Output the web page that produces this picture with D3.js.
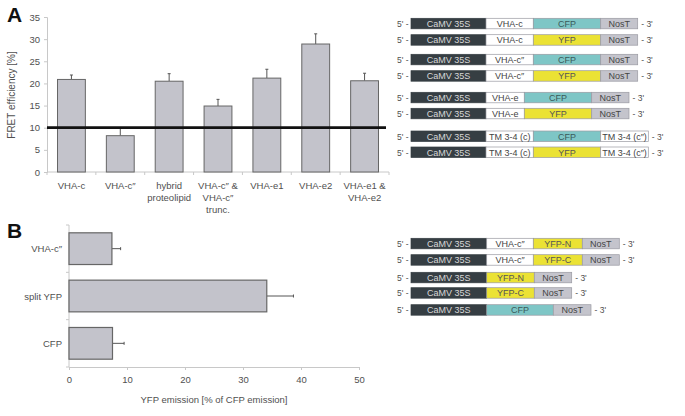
<!DOCTYPE html>
<html><head><meta charset="utf-8">
<script src="https://cdn.jsdelivr.net/npm/d3@7"></script>
<style>body{margin:0;background:#fff}svg{display:block;font-family:"Liberation Sans",Arial,sans-serif}</style>
</head><body><svg id="c" width="685" height="416"></svg>
<script>
// Panel A data
const fretCategories = [["VHA-c"],["VHA-c\u2033"],["hybrid","proteolipid"],["VHA-c\u2033 &","VHA-c\u2033","trunc."],["VHA-e1"],["VHA-e2"],["VHA-e1 &","VHA-e2"]];
const fretValues = [20.9, 8.2, 20.5, 14.9, 21.2, 28.9, 20.6];
const fretErrors = [1.0, 1.7, 1.7, 1.5, 2.0, 2.3, 1.7];
const fretTicks = [0,5,10,15,20,25,30,35];
const fretThreshold = 10;
// Panel B data
const yfpCategories = ["VHA-c\u2033","split YFP","CFP"];
const yfpValues = [7.4, 34.1, 7.5];
const yfpErrors = [1.5, 4.6, 2.0];
const yfpTicks = [0,10,20,30,40,50];
// Constructs: [label, type, length]
const constructsA = [
 [["CaMV 35S","p",75],["VHA-c","w",47.3],["CFP","c",67.4],["NosT","n",37]],
 [["CaMV 35S","p",75],["VHA-c","w",47.3],["YFP","y",67.4],["NosT","n",37]],
 [["CaMV 35S","p",75],["VHA-c\u2033","w",47.3],["CFP","c",67.4],["NosT","n",37]],
 [["CaMV 35S","p",75],["VHA-c\u2033","w",47.3],["YFP","y",67.4],["NosT","n",37]],
 [["CaMV 35S","p",75],["VHA-e","w",38.3],["CFP","c",67.4],["NosT","n",37.3]],
 [["CaMV 35S","p",75],["VHA-e","w",38.3],["YFP","y",67.4],["NosT","n",37.3]],
 [["CaMV 35S","p",75],["TM 3-4 (c)","w",47.3],["CFP","c",67.4],["TM 3-4 (c\u2033)","w",47.6]],
 [["CaMV 35S","p",75],["TM 3-4 (c)","w",47.3],["YFP","y",67.4],["TM 3-4 (c\u2033)","w",47.6]]
];
const constructsB = [
 [["CaMV 35S","p",75.7],["VHA-c\u2033","w",46.6],["YFP-N","y",49],["NosT","n",37]],
 [["CaMV 35S","p",75.7],["VHA-c\u2033","w",46.6],["YFP-C","y",49],["NosT","n",37]],
 [["CaMV 35S","p",75.7],["YFP-N","y",47.6],["NosT","n",37.4]],
 [["CaMV 35S","p",75.7],["YFP-C","y",47.6],["NosT","n",37.4]],
 [["CaMV 35S","p",75.7],["CFP","c",66.6],["NosT","n",37.7]]
];

const svg = d3.select("#c");
const textCol = "#505050", axisCol = "#c8c8c8", barFill = "#c3c3cb", barStroke = "#666";

// ---------- Panel A ----------
const yA = d3.scaleLinear().domain([0,35]).range([172,17]);
const xA = d3.scaleBand().domain(d3.range(fretValues.length)).range([47,389]).paddingInner(0.43).paddingOuter(0.215);
const gA = svg.append("g");
gA.append("text").attr("x",7).attr("y",22).attr("font-size",21).attr("font-weight","bold").attr("fill","#111").text("A");
const yAxA = gA.append("g").attr("transform","translate(47,0)").call(d3.axisLeft(yA).tickValues(fretTicks).tickSize(3).tickPadding(4));
yAxA.selectAll("path,line").attr("stroke",axisCol);
yAxA.selectAll("text").attr("font-size",9.5).attr("fill",textCol).attr("font-family","Liberation Sans, Arial, sans-serif");
gA.append("line").attr("x1",47).attr("x2",389).attr("y1",yA(0)).attr("y2",yA(0)).attr("stroke",axisCol);
// category boundary ticks
d3.range(fretValues.length+1).forEach(i=>{
  const bx = 47 + i*xA.step();
  gA.append("line").attr("x1",bx).attr("x2",bx).attr("y1",yA(0)).attr("y2",yA(0)+3).attr("stroke",axisCol);
});
gA.append("text").attr("transform","translate(15,95) rotate(-90)").attr("text-anchor","middle")
  .attr("font-size",10).attr("fill",textCol).text("FRET efficiency [%]");
// error bars
fretValues.forEach((v,i)=>{
  const cx = xA(i)+xA.bandwidth()/2;
  gA.append("line").attr("x1",cx).attr("x2",cx).attr("y1",yA(v)).attr("y2",yA(v+fretErrors[i])).attr("stroke","#555").attr("stroke-width",1);
  gA.append("line").attr("x1",cx-1.5).attr("x2",cx+1.5).attr("y1",yA(v+fretErrors[i])).attr("y2",yA(v+fretErrors[i])).attr("stroke","#555");
});
gA.selectAll("rect.b").data(fretValues).join("rect")
  .attr("x",(d,i)=>xA(i)).attr("width",xA.bandwidth())
  .attr("y",d=>yA(d)).attr("height",d=>yA(0)-yA(d))
  .attr("fill",barFill).attr("stroke",barStroke).attr("stroke-width",1);
gA.append("line").attr("x1",47).attr("x2",386).attr("y1",yA(fretThreshold)).attr("y2",yA(fretThreshold)).attr("stroke","#111").attr("stroke-width",2.8);
fretCategories.forEach((lines,i)=>{
  const cx = xA(i)+xA.bandwidth()/2;
  lines.forEach((t,j)=>{
    gA.append("text").attr("x",cx).attr("y",189+j*12).attr("text-anchor","middle").attr("font-size",9.5).attr("fill",textCol).text(t);
  });
});

// ---------- Panel B ----------
const xB = d3.scaleLinear().domain([0,50]).range([69,359]);
const yB = d3.scaleBand().domain(d3.range(yfpValues.length)).range([225,367]).paddingInner(0.33).paddingOuter(0.165);
const gB = svg.append("g");
gB.append("text").attr("x",7).attr("y",238).attr("font-size",21).attr("font-weight","bold").attr("fill","#111").text("B");
const xAxB = gB.append("g").attr("transform","translate(0,367)").call(d3.axisBottom(xB).tickValues(yfpTicks).tickSize(3).tickPadding(6));
xAxB.selectAll("path,line").attr("stroke",axisCol);
xAxB.selectAll("text").attr("font-size",9.5).attr("fill",textCol).attr("font-family","Liberation Sans, Arial, sans-serif");
gB.append("line").attr("x1",69).attr("x2",69).attr("y1",225).attr("y2",367).attr("stroke",axisCol);
d3.range(yfpValues.length+1).forEach(i=>{
  const by = 225 + i*yB.step();
  gB.append("line").attr("x1",66).attr("x2",69).attr("y1",by).attr("y2",by).attr("stroke",axisCol);
});
gB.append("text").attr("x",214).attr("y",403).attr("text-anchor","middle").attr("font-size",9.5).attr("fill",textCol).text("YFP emission [% of CFP emission]");
yfpValues.forEach((v,i)=>{
  const cy = yB(i)+yB.bandwidth()/2;
  gB.append("line").attr("x1",xB(v)).attr("x2",xB(v+yfpErrors[i])).attr("y1",cy).attr("y2",cy).attr("stroke","#555");
  gB.append("line").attr("x1",xB(v+yfpErrors[i])).attr("x2",xB(v+yfpErrors[i])).attr("y1",cy-1.5).attr("y2",cy+1.5).attr("stroke","#555");
});
gB.selectAll("rect.b").data(yfpValues).join("rect")
  .attr("x",xB(0)).attr("width",d=>xB(d)-xB(0))
  .attr("y",(d,i)=>yB(i)).attr("height",yB.bandwidth())
  .attr("fill",barFill).attr("stroke",barStroke).attr("stroke-width",1.2);
yfpCategories.forEach((t,i)=>{
  gB.append("text").attr("x",62).attr("y",yB(i)+yB.bandwidth()/2+3.5).attr("text-anchor","end").attr("font-size",9.5).attr("fill",textCol).text(t);
});

// ---------- Constructs ----------
const segFill = {p:"#363e43", w:"#ffffff", c:"#7ec6c6", y:"#ebe234", n:"#c4c4cc"};
const segText = {p:"#d8d8d8", w:"#444", c:"#3a5a5a", y:"#555", n:"#444"};
const lenScale = d3.scaleLinear().domain([0,1]).range([0,1]);
function drawConstructs(rows, ys){
  const g = svg.append("g");
  rows.forEach((segs,r)=>{
    const y0 = ys[r], h = 10.5;
    g.append("text").attr("x",397).attr("y",y0+h/2+3.3).attr("font-size",8.5).attr("fill",textCol).text("5' -");
    let x = 411;
    segs.forEach(([lab,type,len])=>{
      const w = lenScale(len);
      g.append("rect").attr("x",x).attr("y",y0).attr("width",w).attr("height",h)
        .attr("fill",segFill[type]).attr("stroke",type==="p"?"#363e43":"#9a9aa2").attr("stroke-width",0.7);
      g.append("text").attr("x",x+w/2).attr("y",y0+h/2+3.4).attr("text-anchor","middle").attr("font-size",9).attr("fill",segText[type]).text(lab);
      x += w;
    });
    g.append("text").attr("x",x+3.5).attr("y",y0+h/2+3.3).attr("font-size",8.5).attr("fill",textCol).text("- 3'");
  });
}
drawConstructs(constructsA, [18.3,34.7,54.3,70.7,92.3,108.3,131,147]);
drawConstructs(constructsB, [238.3,254.7,272.3,287.7,304.7]);
</script></body></html>
